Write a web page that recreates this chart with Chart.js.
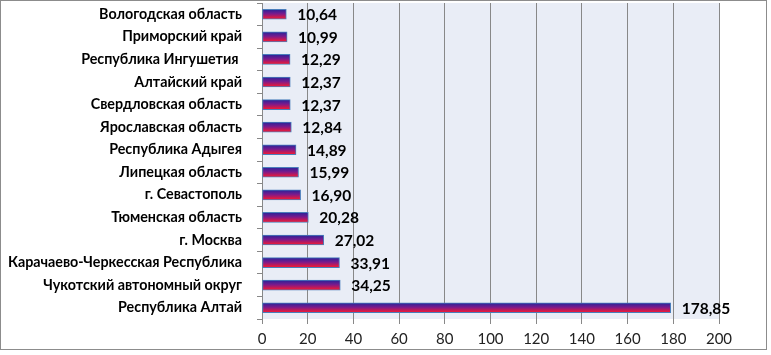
<!DOCTYPE html>
<html><head><meta charset="utf-8">
<script src="https://cdn.jsdelivr.net/npm/chart.js@4/dist/chart.umd.min.js"></script>
<style>
html,body{margin:0;padding:0;background:#fff;}
#wrap{position:relative;width:771px;height:355px;}
#frame{position:absolute;left:0;top:0;width:765px;height:348px;border:1px solid #8c8c8c;pointer-events:none;}
</style></head>
<body><div id="wrap"><canvas id="c" width="771" height="355"></canvas><div id="frame"></div></div>
<script>
const categories = ["Вологодская область","Приморский край","Республика Ингушетия ","Алтайский край","Свердловская область","Ярославская область","Республика Адыгея","Липецкая область","г. Севастополь","Тюменская область","г. Москва","Карачаево-Черкесская Республика","Чукотский автономный округ","Республика Алтай"];
const values = [10.64,10.99,12.29,12.37,12.37,12.84,14.89,15.99,16.90,20.28,27.02,33.91,34.25,178.85];
const xTicks = [0,20,40,60,80,100,120,140,160,180,200];

const FONT = "Lato, 'Open Sans', sans-serif";
const BAR_T = 10;

function barGradient(ctx){
  const chart = ctx.chart;
  const ys = chart.scales && chart.scales.y;
  if (!ys || ctx.dataIndex === undefined) return '#7a1a8a';
  const yc = ys.getPixelForValue(ctx.dataIndex);
  if (!isFinite(yc)) return '#7a1a8a';
  const g = chart.ctx.createLinearGradient(0, yc - BAR_T/2, 0, yc + BAR_T/2);
  g.addColorStop(0, '#24249a');
  g.addColorStop(0.45, '#7a1a8c');
  g.addColorStop(1, '#ff1a2a');
  return g;
}

const plotBg = {
  id:'plotBg',
  beforeDraw(chart){
    const {ctx, chartArea:a} = chart;
    ctx.save(); ctx.fillStyle = '#e9edf6';
    ctx.fillRect(a.left, a.top, a.right-a.left, a.bottom-a.top);
    ctx.restore();
  }
};
const valueLabels = {
  id:'valueLabels',
  afterDatasetsDraw(chart){
    const {ctx} = chart;
    const meta = chart.getDatasetMeta(0);
    ctx.save();
    ctx.font = "bold 15.5px " + FONT;
    ctx.fillStyle = '#000';
    ctx.textBaseline = 'middle';
    meta.data.forEach((bar,i)=>{
      ctx.fillText(values[i].toFixed(2).replace('.',','), bar.x + 11, bar.y + 1);
    });
    ctx.restore();
  }
};

new Chart(document.getElementById('c'), {
  type:'bar',
  data:{labels:categories, datasets:[{data:values, backgroundColor:barGradient, borderColor:'#4a7ebb', borderWidth:1, borderSkipped:false, barThickness:BAR_T}]},
  options:{
    indexAxis:'y', responsive:false, animation:false,
    layout:{padding:{top:3,right:52,bottom:0,left:0}},
    plugins:{legend:{display:false}, tooltip:{enabled:false}},
    scales:{
      x:{min:0,max:200,
        afterBuildTicks(s){ s.ticks = xTicks.map(v=>({value:v})); },
        afterFit(s){ s.height = 36; s.paddingLeft = 0; s.paddingRight = 0; },
        grid:{color:'#888', lineWidth:1, tickLength:5, drawTicks:true},
        border:{display:false},
        ticks:{font:{family:FONT,size:15}, color:'#222', padding:6, maxRotation:0}
      },
      y:{
        afterFit(s){ s.width = 262; s.paddingTop = 0; s.paddingBottom = 0; },
        grid:{offset:true, drawOnChartArea:false, color:'#888', tickLength:5},
        border:{display:true,color:'#888',width:1},
        ticks:{font:{family:FONT,size:14.3,weight:'bold'}, color:'#000', padding:15, autoSkip:false}
      }
    }
  },
  plugins:[plotBg, valueLabels]
});
</script></body></html>
